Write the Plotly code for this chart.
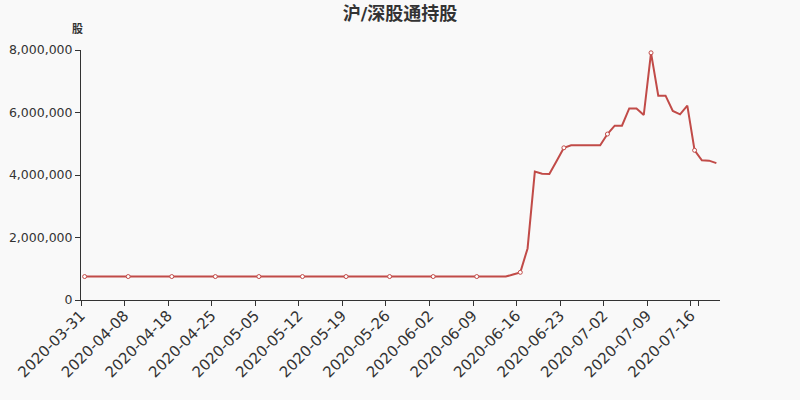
import plotly.graph_objects as go

# trade dates (category axis)
dates = [
    '2020-03-31', '2020-04-01', '2020-04-02', '2020-04-03', '2020-04-06', '2020-04-07',
    '2020-04-08', '2020-04-09', '2020-04-10', '2020-04-13', '2020-04-15', '2020-04-16',
    '2020-04-18', '2020-04-20', '2020-04-21', '2020-04-22', '2020-04-23', '2020-04-24',
    '2020-04-25', '2020-04-27', '2020-04-28', '2020-04-29', '2020-04-30', '2020-05-04',
    '2020-05-05', '2020-05-06', '2020-05-07', '2020-05-08', '2020-05-09', '2020-05-11',
    '2020-05-12', '2020-05-13', '2020-05-14', '2020-05-15', '2020-05-16', '2020-05-18',
    '2020-05-19', '2020-05-20', '2020-05-21', '2020-05-22', '2020-05-23', '2020-05-25',
    '2020-05-26', '2020-05-27', '2020-05-28', '2020-05-29', '2020-05-30', '2020-06-01',
    '2020-06-02', '2020-06-03', '2020-06-04', '2020-06-05', '2020-06-06', '2020-06-08',
    '2020-06-09', '2020-06-10', '2020-06-11', '2020-06-12', '2020-06-13', '2020-06-15',
    '2020-06-16', '2020-06-17', '2020-06-18', '2020-06-19', '2020-06-20', '2020-06-22',
    '2020-06-23', '2020-06-24', '2020-06-27', '2020-06-29', '2020-06-30', '2020-07-01',
    '2020-07-02', '2020-07-03', '2020-07-04', '2020-07-06', '2020-07-07', '2020-07-08',
    '2020-07-09', '2020-07-10', '2020-07-11', '2020-07-13', '2020-07-14', '2020-07-15',
    '2020-07-16', '2020-07-17', '2020-07-18', '2020-07-20',
]

# holdings (shares)
holdings = [
    750000, 750000, 750000, 750000, 750000, 750000, 750000, 750000, 750000, 750000,
    750000, 750000, 750000, 750000, 750000, 750000, 750000, 750000, 750000, 750000,
    750000, 750000, 750000, 750000, 750000, 750000, 750000, 750000, 750000, 750000,
    750000, 750000, 750000, 750000, 750000, 750000, 750000, 750000, 750000, 750000,
    750000, 750000, 750000, 750000, 750000, 750000, 750000, 750000, 750000, 750000,
    750000, 750000, 750000, 750000, 750000, 750000, 750000, 750000, 750000, 815000,
    885000, 1650000, 4110000, 4040000, 4030000, 4450000, 4870000, 4950000, 4950000, 4950000,
    4950000, 4950000, 5310000, 5580000, 5580000, 6130000, 6130000, 5920000, 7910000, 6540000,
    6540000, 6050000, 5940000, 6220000, 4790000, 4470000, 4460000, 4380000,
]

tick_dates = dates[::6]
line_color = '#c14b48'
font = 'DejaVu Sans, Noto Sans CJK SC, sans-serif'

fig = go.Figure()
fig.add_trace(go.Scatter(x=dates, y=holdings, mode='lines',
                         line=dict(color=line_color, width=2),
                         name='沪/深股通持股', hoverinfo='x+y'))
# ECharts only draws every 6th symbol
fig.add_trace(go.Scatter(x=dates[::6], y=holdings[::6], mode='markers',
                         marker=dict(size=4, color='white',
                                     line=dict(color=line_color, width=1)),
                         hoverinfo='skip', showlegend=False))

fig.update_layout(
    width=800, height=400,
    title=dict(text='<b>沪/深股通持股</b>', x=0.5, xanchor='center',
               y=0.965, yanchor='middle',
               font=dict(size=18, color='#333', family=font)),
    paper_bgcolor='#f9f9f9', plot_bgcolor='#f9f9f9',
    margin=dict(l=81, r=80, t=50, b=100),
    showlegend=False,
    font=dict(family=font, color='#333'),
    xaxis=dict(type='category', range=[-0.5, len(dates) - 0.5], automargin=False,
               tickmode='array', tickvals=tick_dates, ticktext=tick_dates,
               tickson='boundaries', ticklabelshift=-4,
               tickangle=-45, tickfont=dict(size=15, color='#333'),
               ticks='outside', ticklen=5, tickcolor='#333',
               showline=True, linecolor='#333', linewidth=1,
               showgrid=False, zeroline=False),
    yaxis=dict(range=[0, 8000000], tickvals=[0, 2000000, 4000000, 6000000, 8000000],
               tickformat=',d', tickfont=dict(size=12.5, color='#333'), automargin=False,
               ticks='outside', ticklen=5, tickcolor='#333',
               showline=True, linecolor='#333', linewidth=1,
               showgrid=False, zeroline=False),
    annotations=[dict(text='<b>股</b>', xref='paper', yref='paper', x=0, y=1,
                      xanchor='right', yanchor='bottom', yshift=12, xshift=4,
                      showarrow=False, font=dict(size=11, color='#333'))],
)

# drop the default 8px body margin so the figure sits at the page corner
fig.write_html('out.html', config={'displayModeBar': False},
               post_script="document.body.style.margin='0px';")
